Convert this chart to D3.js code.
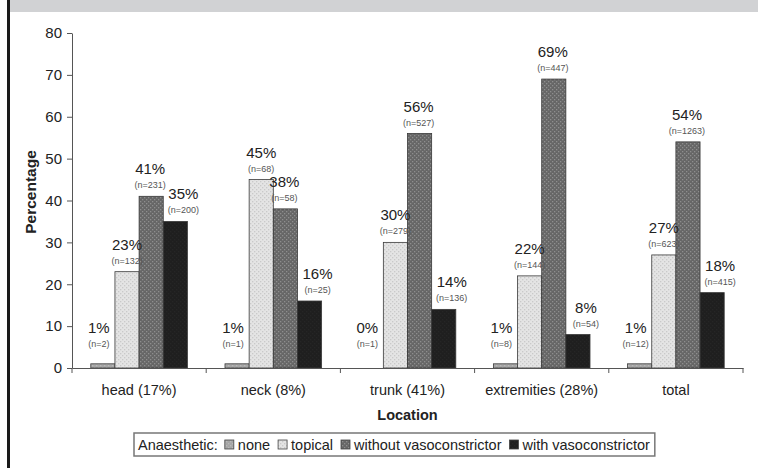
<!DOCTYPE html>
<html>
<head>
<meta charset="utf-8">
<script src="https://cdn.jsdelivr.net/npm/d3@7"></script>
<style>
    body { margin: 0; background: #fff; }
    svg text { font-family: "Liberation Sans", Arial, sans-serif; }
</style>
</head>
<body>
<div id="main_area"></div>
<script>
// chart data
var categories = ["head (17%)", "neck (8%)", "trunk (41%)", "extremities (28%)", "total"];
var seriesNames = ["none", "topical", "without vasoconstrictor", "with vasoconstrictor"];
var noneVals = [1, 1, 0, 1, 1];
var topicalVals = [23, 45, 30, 22, 27];
var withoutVals = [41, 38, 56, 69, 54];
var withVals = [35, 16, 14, 8, 18];
var noneN = [2, 1, 1, 8, 12];
var topicalN = [132, 68, 279, 144, 623];
var withoutN = [231, 58, 527, 447, 1263];
var withN = [200, 25, 136, 54, 415];
var yTicks = [0, 10, 20, 30, 40, 50, 60, 70, 80];

function drawChart() {
    var W = 758, H = 468;
    var margin = {top: 33, right: 15, bottom: 100, left: 72},
        width = 743 - margin.left,
        height = 368 - margin.top;

    var svg = d3.select("div#main_area")
        .append("svg")
        .attr("width", W)
        .attr("height", H);

    // patterns for the dotted bars
    var defs = svg.append("defs");
    var pats = [
        {id: "p0", bg: "#a6a6a6", dot: "#bababa"},
        {id: "p1", bg: "#e4e4e4", dot: "#c9c9c9"},
        {id: "p2", bg: "#666666", dot: "#8e8e8e"},
        {id: "p3", bg: "#1f1f1f", dot: "#262626"}
    ];
    pats.forEach(function (p) {
        var pt = defs.append("pattern")
            .attr("id", p.id)
            .attr("width", 4)
            .attr("height", 4)
            .attr("patternUnits", "userSpaceOnUse");
        pt.append("rect").attr("width", 4).attr("height", 4).attr("fill", p.bg);
        pt.append("rect").attr("x", 0).attr("y", 0).attr("width", 1.3).attr("height", 1.3).attr("fill", p.dot);
        pt.append("rect").attr("x", 2).attr("y", 2).attr("width", 1.3).attr("height", 1.3).attr("fill", p.dot);
    });

    // frame: grey band on top, black rule on the left
    svg.append("rect").attr("x", 10).attr("y", 0).attr("width", W - 10).attr("height", 12).attr("fill", "#d1d2d4");
    svg.append("rect").attr("x", 7).attr("y", 0).attr("width", 3).attr("height", H).attr("fill", "#1a1a1a");

    var g = svg.append("g")
        .attr("transform", "translate(" + margin.left + "," + margin.top + ")");

    var x0 = d3.scaleBand()
        .domain(categories)
        .range([0, width]);
    var bw = x0.bandwidth();
    var x1 = d3.scaleBand()
        .domain(seriesNames)
        .range([bw * 0.14, bw * 0.86]);
    var y = d3.scaleLinear()
        .domain([0, 80])
        .range([height, 0]);

    var vals = [noneVals, topicalVals, withoutVals, withVals];
    var ns = [noneN, topicalN, withoutN, withN];
    var rows = [];
    categories.forEach(function (c, i) {
        seriesNames.forEach(function (s, j) {
            rows.push({cat: c, ser: s, j: j, v: vals[j][i], n: ns[j][i]});
        });
    });

    // bars
    g.append("g")
        .selectAll("rect")
        .data(rows)
        .enter()
        .append("rect")
        .attr("x", function (d) { return x0(d.cat) + x1(d.ser); })
        .attr("y", function (d) { return y(d.v); })
        .attr("width", x1.bandwidth())
        .attr("height", function (d) { return height - y(d.v); })
        .attr("fill", function (d) { return "url(#p" + d.j + ")"; })
        .attr("stroke", "#3a3a3a")
        .attr("stroke-width", function (d) { return d.v > 0 ? 0.8 : 0; });

    // labels above bars (slight sideways nudge per series, like the original)
    var nudge = [-4, 0, -1, 8];
    var lab = g.append("g")
        .selectAll("g")
        .data(rows)
        .enter()
        .append("g")
        .attr("transform", function (d) {
            var top = Math.min(y(d.v), height - 13);
            return "translate(" + (x0(d.cat) + x1(d.ser) + x1.bandwidth() / 2 + nudge[d.j]) + "," + top + ")";
        });
    lab.append("text")
        .attr("y", -8)
        .attr("text-anchor", "middle")
        .attr("font-size", 9)
        .attr("fill", "#555")
        .text(function (d) { return "(n=" + d.n + ")"; });
    lab.append("text")
        .attr("y", -22)
        .attr("text-anchor", "middle")
        .attr("font-size", 15)
        .attr("fill", "#222")
        .text(function (d) { return d.v + "%"; });

    // y axis
    var yAxis = g.append("g")
        .call(d3.axisLeft(y).tickValues(yTicks).tickSize(5).tickSizeOuter(0).tickPadding(5));
    yAxis.selectAll("text").attr("font-size", 15).attr("fill", "#222");
    yAxis.selectAll("line,path").attr("stroke", "#555");

    // x axis, ticks at category boundaries
    var xAxis = g.append("g")
        .attr("transform", "translate(0," + height + ")")
        .call(d3.axisBottom(x0).tickSize(0).tickPadding(17));
    xAxis.select("path").attr("stroke", "#555");
    xAxis.selectAll("text").attr("font-size", 14.5).attr("fill", "#222");
    var bounds = categories.map(function (c) { return x0(c); }).concat([width]);
    xAxis.selectAll("line.bound")
        .data(bounds)
        .enter()
        .append("line")
        .attr("class", "bound")
        .attr("x1", function (d) { return d; })
        .attr("x2", function (d) { return d; })
        .attr("y1", 0)
        .attr("y2", 5)
        .attr("stroke", "#555");

    // axis titles
    svg.append("text")
        .attr("transform", "rotate(-90)")
        .attr("x", -192)
        .attr("y", 36)
        .attr("text-anchor", "middle")
        .attr("font-size", 15.5)
        .attr("font-weight", "bold")
        .attr("fill", "#222")
        .text("Percentage");
    svg.append("text")
        .attr("x", margin.left + width / 2)
        .attr("y", 420)
        .attr("text-anchor", "middle")
        .attr("font-size", 14.5)
        .attr("font-weight", "bold")
        .attr("fill", "#222")
        .text("Location");

    // legend
    var leg = svg.append("g").attr("transform", "translate(134,433)");
    var legBox = leg.append("rect")
        .attr("height", 23)
        .attr("fill", "#fff")
        .attr("stroke", "#777")
        .attr("stroke-width", 1.5);
    var lx = 4;
    var t0 = leg.append("text")
        .attr("x", lx).attr("y", 17)
        .attr("font-size", 14.5).attr("fill", "#222")
        .text("Anaesthetic:");
    lx += t0.node().getComputedTextLength() + 7;
    seriesNames.forEach(function (s, j) {
        leg.append("rect")
            .attr("x", lx).attr("y", 7)
            .attr("width", 9).attr("height", 9)
            .attr("fill", "url(#p" + j + ")")
            .attr("stroke", "#444").attr("stroke-width", 0.8);
        lx += 13;
        var t = leg.append("text")
            .attr("x", lx).attr("y", 17)
            .attr("font-size", 14.5).attr("fill", "#222")
            .text(s);
        lx += t.node().getComputedTextLength() + 8;
    });
    legBox.attr("width", lx - 3);
}

drawChart();
</script>
</body>
</html>
